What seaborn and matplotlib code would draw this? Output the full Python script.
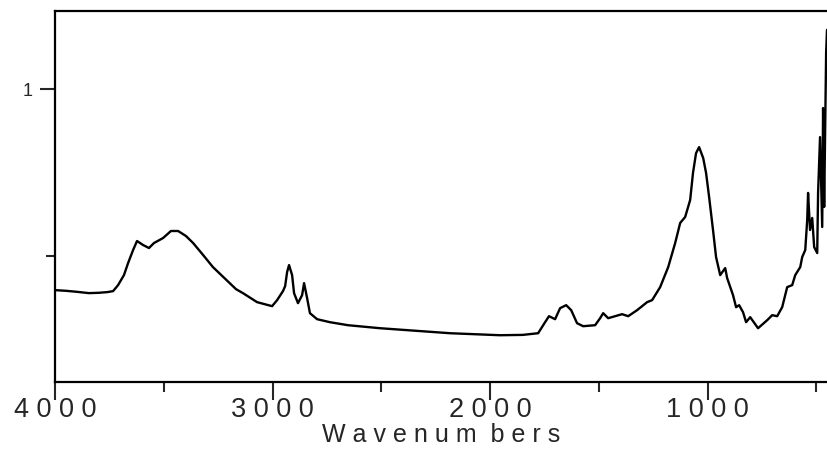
import matplotlib
matplotlib.use("Agg")
import matplotlib.pyplot as plt
import seaborn as sns
import pandas as pd
from matplotlib.ticker import FixedLocator

wavenumber = [4000, 3950, 3900, 3844, 3800, 3760, 3733, 3710, 3683, 3664, 3641, 3623,
              3595, 3568, 3545, 3503, 3467, 3434, 3398, 3365, 3319, 3274, 3168, 3136,
              3071, 3002, 2979, 2952, 2942, 2933, 2924, 2910, 2901, 2883, 2864, 2855,
              2841, 2828, 2795, 2736, 2653, 2506, 2184, 1954, 1850, 1779, 1747, 1729, 1701,
              1678, 1650, 1627, 1600, 1572, 1517, 1494, 1480, 1457, 1425, 1393, 1365,
              1324, 1278, 1255, 1218, 1181, 1149, 1126, 1103, 1080, 1067, 1053, 1039,
              1020, 1007, 993, 975, 961, 942, 919, 910, 883, 869, 855, 837,
              823, 804, 768, 726, 703, 680, 657, 634, 611, 597, 574, 565,
              551, 542, 538, 529, 519, 510, 496, 492, 483, 473, 469, 464,
              455, 451]
absorbance = [0.398, 0.396, 0.393, 0.389, 0.390, 0.392, 0.395, 0.413, 0.443, 0.479, 0.518, 0.545,
              0.533, 0.524, 0.539, 0.554, 0.575, 0.575, 0.560, 0.539, 0.503, 0.467, 0.401, 0.389,
              0.362, 0.350, 0.368, 0.395, 0.410, 0.452, 0.473, 0.443, 0.389, 0.359, 0.383, 0.419,
              0.374, 0.329, 0.311, 0.302, 0.293, 0.284, 0.269, 0.263, 0.264, 0.269, 0.302, 0.320, 0.311,
              0.344, 0.353, 0.338, 0.299, 0.290, 0.293, 0.314, 0.329, 0.314, 0.320, 0.326, 0.320,
              0.338, 0.362, 0.368, 0.407, 0.467, 0.539, 0.599, 0.617, 0.668, 0.749, 0.808, 0.826,
              0.793, 0.749, 0.677, 0.578, 0.497, 0.443, 0.464, 0.434, 0.383, 0.347, 0.353, 0.332,
              0.302, 0.317, 0.284, 0.308, 0.323, 0.320, 0.347, 0.407, 0.413, 0.443, 0.467, 0.497,
              0.518, 0.608, 0.689, 0.578, 0.614, 0.527, 0.509, 0.689, 0.856, 0.587, 0.943, 0.647,
              1.108, 1.177]

x_major = [4000, 3000, 2000, 1000]
x_major_labels = ["4 0 0 0", "3 0 0 0", "2 0 0 0", "1 0 0 0"]
x_minor = [3500, 2500, 1500, 500]
y_major = [1]
y_major_labels = ["1"]
y_minor = [0.5]

sns.set_style("ticks")
plt.rcParams['font.family'] = ['Liberation Sans', 'DejaVu Sans']

df = pd.DataFrame({"wn": wavenumber, "A": absorbance})

fig = plt.figure(figsize=(8.27, 4.51), dpi=100)
ax = fig.add_axes([55/827, 1 - 382/451, 1 - 55/827, (382 - 11)/451])
sns.lineplot(data=df, x="wn", y="A", ax=ax, color="black", linewidth=1.7, sort=False)

ax.set_xlim(4000, 451)
ax.set_ylim(0.123, 1.2335)

ax.xaxis.set_major_locator(FixedLocator(x_major))
ax.set_xticklabels(x_major_labels)
ax.xaxis.set_minor_locator(FixedLocator(x_minor))
ax.yaxis.set_major_locator(FixedLocator(y_major))
ax.set_yticklabels(y_major_labels)
ax.yaxis.set_minor_locator(FixedLocator(y_minor))

ax.tick_params(axis="x", which="major", length=13, width=1.5, labelsize=19.5, pad=-2, direction="out")
ax.tick_params(axis="x", which="minor", length=7, width=1.5, direction="out")
ax.tick_params(axis="y", which="major", length=11, width=1.5, labelsize=13, pad=5, direction="out")
ax.tick_params(axis="y", which="minor", length=6.5, width=1.5, direction="out")

for s in ["left", "bottom", "top"]:
    ax.spines[s].set_visible(True)
    ax.spines[s].set_linewidth(1.6)
    ax.spines[s].set_color("black")
ax.spines["right"].set_visible(False)

ax.set_xlabel("W a v e n u m  b e r s", fontsize=18, labelpad=0)
ax.set_ylabel("")

fig.savefig("out.png", dpi=100)
